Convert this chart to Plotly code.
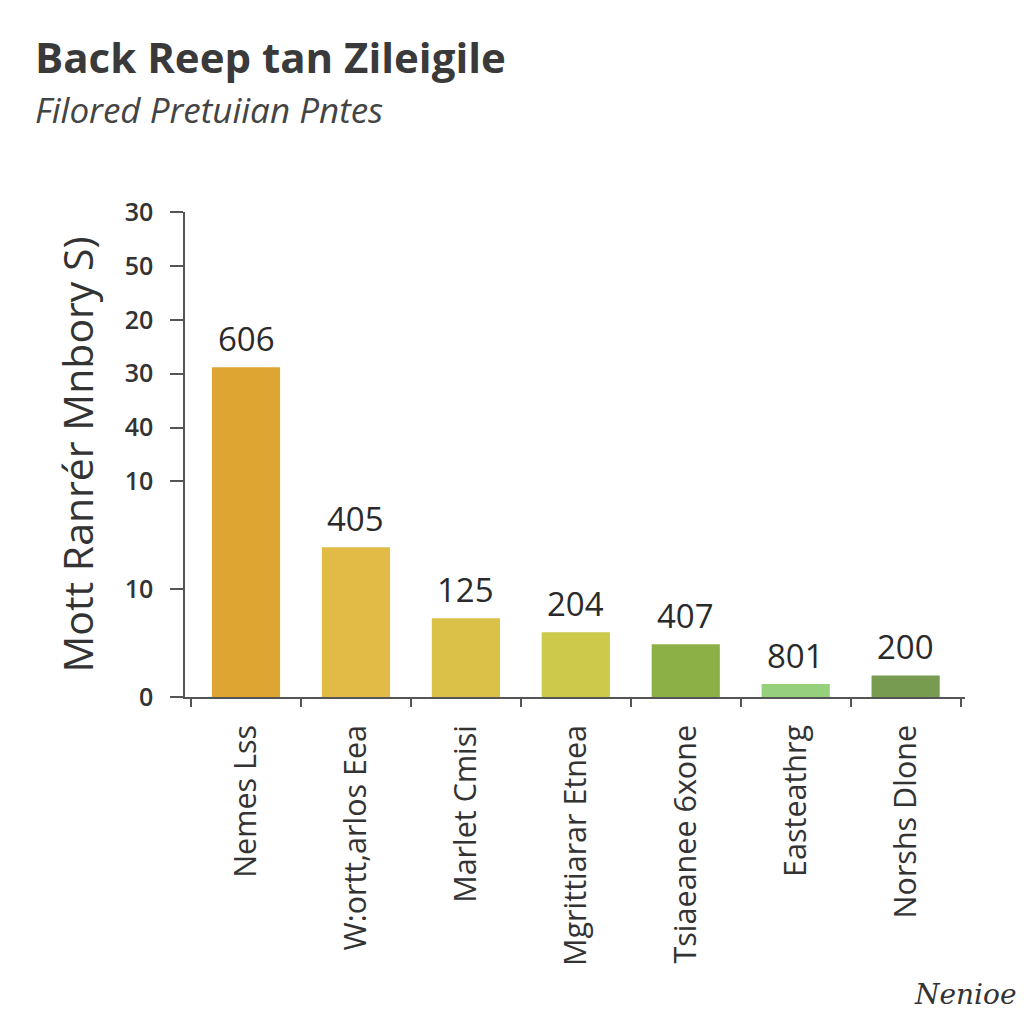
import plotly.graph_objects as go

# ---- data ----
categories = ["Nemes Lss", "W:ortt,arlos Eea", "Marlet Cmisi", "Mgrittiarar Etnea",
              "Tsiaeanee 6xone", "Easteathrg", "Norshs Dlone"]
bar_heights = [30.6, 13.9, 7.3, 6.0, 4.9, 1.2, 2.0]
bar_labels = ["606", "405", "125", "204", "407", "801", "200"]
bar_colors = ["#DFA532", "#E1BB45", "#DAC148", "#CDC94B", "#8DB046", "#95D07C", "#789C4F"]
ytick_vals = [0, 10, 20, 25, 30, 35, 40, 45]
ytick_text = ["0", "10", "10", "40", "30", "20", "50", "30"]

FONT = "Open Sans"
TXT = "#333333"

fig = go.Figure()
fig.add_trace(go.Bar(
    x=categories, y=bar_heights, width=0.62,
    marker=dict(color=bar_colors, line=dict(width=0)),
    hoverinfo="skip", showlegend=False,
))

annotations = []
for c, h, lab in zip(categories, bar_heights, bar_labels):
    annotations.append(dict(
        x=c, y=h, xref="x", yref="y", text=lab, showarrow=False,
        yanchor="bottom", yshift=4, font=dict(family=FONT, size=33, color="#2a2a2a"),
    ))

annotations += [
    dict(text="<b>Back Reep tan Zileigile</b>", xref="paper", yref="paper",
         x=-0.195, y=(697 - 56) / 485, xanchor="left", yanchor="middle", showarrow=False,
         font=dict(family=FONT, size=42, color="#3a3a3a")),
    dict(text="<i>Filored Pretuiian Pntes</i>", xref="paper", yref="paper",
         x=-0.195, y=(697 - 109) / 485, xanchor="left", yanchor="middle", showarrow=False,
         font=dict(family=FONT, size=35, color="#444444")),
    dict(text="<i>Nenioe</i>", xref="paper", yref="paper",
         x=1.0, y=-0.614, xanchor="center", yanchor="middle", showarrow=False,
         font=dict(family="DejaVu Serif", size=28, color="#333333")),
]

fig.update_layout(
    width=1024, height=1024,
    margin=dict(l=185, r=59, t=212, b=327),
    paper_bgcolor="white", plot_bgcolor="white",
    font=dict(family=FONT, color=TXT),
    annotations=annotations,
    bargap=0.38,
)

fig.update_xaxes(
    range=[-0.555, 6.54], showgrid=False, zeroline=False,
    showline=True, linecolor="#555555", linewidth=1.5,
    ticks="outside", tickson="boundaries", ticklen=8, tickcolor="#555555", tickwidth=1.5,
    tickangle=-90, ticklabelstandoff=14,
    tickfont=dict(family=FONT, size=30.5, color=TXT),
)
fig.update_yaxes(
    range=[0, 45], showgrid=False, zeroline=False,
    showline=True, linecolor="#555555", linewidth=1.5,
    tickmode="array", tickvals=ytick_vals, ticktext=ytick_text,
    ticks="outside", ticklen=13, tickcolor="#555555", tickwidth=1.5,
    ticklabelstandoff=12,
    tickfont=dict(family=FONT, size=25, color=TXT, weight=600),
    title=dict(text="Mott Ranrér Mnbory S)", font=dict(family=FONT, size=41, color=TXT), standoff=18),
)

fig.write_html("out.html")
